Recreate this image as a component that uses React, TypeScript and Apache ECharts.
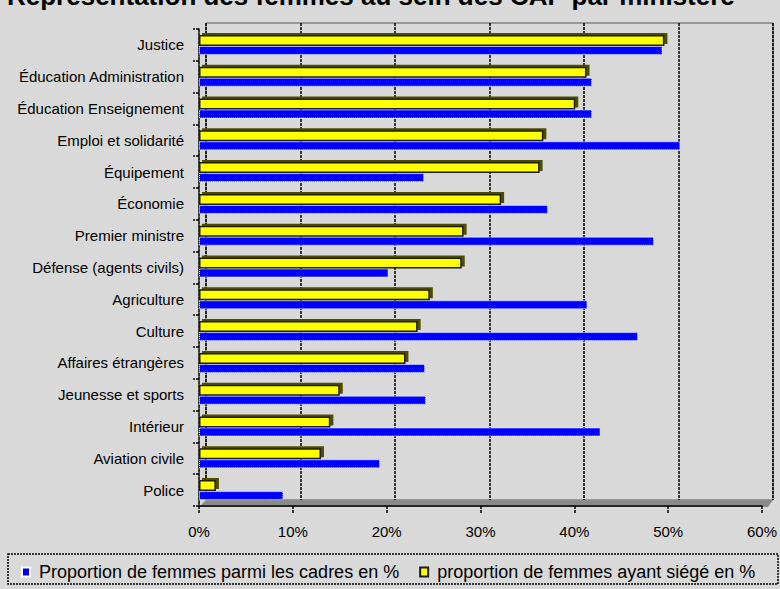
import React, { useEffect, useRef } from "react";
import * as echarts from "echarts";

const titleText = "Représentation des femmes au sein des CAP par ministère";
const categories = [
  "Justice",
  "Éducation Administration",
  "Éducation Enseignement",
  "Emploi et solidarité",
  "Équipement",
  "Économie",
  "Premier ministre",
  "Défense (agents civils)",
  "Agriculture",
  "Culture",
  "Affaires étrangères",
  "Jeunesse et sports",
  "Intérieur",
  "Aviation civile",
  "Police",
];
const cadresName = "Proportion de femmes parmi les cadres en %";
const siegeName = "proportion de femmes ayant siégé en %";
const cadres = [49.4, 41.9, 41.9, 51.3, 24.0, 37.2, 48.5, 20.2, 41.4, 46.8, 24.1, 24.2, 42.8, 19.3, 9.0];
const siege = [49.6, 41.3, 40.1, 36.7, 36.3, 32.2, 28.2, 28.0, 24.6, 23.3, 22.0, 15.0, 14.0, 13.0, 1.8];
const xMin = 0;
const xMax = 60;
const xStep = 10;

const FONT = 'Arial, "Liberation Sans", sans-serif';

export default function App() {
  const ref = useRef<HTMLDivElement>(null);
  useEffect(() => {
    if (!ref.current) return;
    const chart = echarts.init(ref.current, null, { renderer: "svg" });
    const axisLine = { color: "#000", width: 1.5, type: [3, 1] as any };
    chart.setOption({
      animation: false,
      backgroundColor: "#d9d9d9",
      textStyle: { fontFamily: FONT },
      grid: [
        { left: 199, top: 29, width: 569, height: 477, containLabel: false },
        {
          left: 206,
          top: 23,
          width: 567,
          height: 477,
          show: true,
          borderColor: "#555",
          borderWidth: 1,
          backgroundColor: "transparent",
          z: 0,
        },
      ],
      xAxis: [
        {
          gridIndex: 0,
          type: "value",
          min: xMin,
          max: xMax,
          interval: xStep,
          axisLine: { show: true, lineStyle: axisLine },
          axisTick: { show: true, length: 7, lineStyle: axisLine },
          splitLine: { show: false },
          axisLabel: {
            formatter: "{value}%",
            fontSize: 15,
            color: "#000",
            margin: 18,
            fontFamily: FONT,
          },
          z: 3,
        },
        {
          gridIndex: 1,
          type: "value",
          min: xMin,
          max: xMax,
          interval: xStep,
          axisLine: { show: false },
          axisTick: { show: false },
          axisLabel: { show: false },
          splitLine: { show: true, lineStyle: { color: "#000", width: 1.5, type: [3, 1] } },
          z: 0,
        },
      ],
      yAxis: [
        {
          gridIndex: 0,
          type: "category",
          inverse: true,
          data: categories,
          axisLine: { show: true, lineStyle: axisLine },
          axisTick: { show: true, length: 6, interval: 0, lineStyle: axisLine },
          axisLabel: { fontSize: 15, color: "#000", margin: 15, fontFamily: FONT, interval: 0 },
          z: 3,
        },
        {
          gridIndex: 1,
          type: "value",
          min: 0,
          max: 1,
          show: false,
        },
      ],
      legend: {
        left: 16,
        top: 558,
        orient: "horizontal",
        icon: "rect",
        itemWidth: 8,
        itemHeight: 9,
        itemGap: 20,
        data: [cadresName, siegeName],
        textStyle: { fontSize: 18, color: "#000", fontFamily: FONT, padding: [0, 0, 0, 4] },
      },
      graphic: [
        {
          type: "text",
          x: 7,
          y: 9,
          style: {
            text: titleText,
            fontSize: 26,
            fontWeight: "bold",
            fontFamily: FONT,
            fill: "#000",
            align: "left",
            verticalAlign: "bottom",
          },
          z: 10,
        },
        {
          type: "polygon",
          shape: { points: [[199, 507], [206, 500], [773, 500], [768, 507]] },
          style: { fill: "#8a8a8a" },
          z: 1,
        },
        {
          type: "rect",
          shape: { x: 8, y: 554, width: 770, height: 30 },
          style: { fill: "none", stroke: "#000", lineWidth: 1.5, lineDash: [2, 1] },
          z: 1,
        },
      ],
      series: [
        {
          name: siegeName,
          type: "bar",
          xAxisIndex: 0,
          yAxisIndex: 0,
          data: siege,
          barWidth: 11,
          barGap: "0%",
          itemStyle: {
            color: "#ffff00",
            borderColor: "#1a1a1a",
            borderWidth: 1.5,
            shadowColor: "#4d4d00",
            shadowOffsetX: 3,
            shadowOffsetY: -2,
            shadowBlur: 0,
          },
          z: 5,
        },
        {
          name: cadresName,
          type: "bar",
          xAxisIndex: 0,
          yAxisIndex: 0,
          data: cadres,
          barWidth: 9,
          barGap: "0%",
          itemStyle: {
            color: "#0000ff",
            borderColor: "#ffffff",
            borderWidth: 1,
            borderType: "dotted",
          },
          z: 4,
        },
      ],
    });
    return () => chart.dispose();
  }, []);
  return (
    <div
      ref={ref}
      style={{ position: "fixed", left: 0, top: 0, width: 780, height: 589 }}
    />
  );
}
